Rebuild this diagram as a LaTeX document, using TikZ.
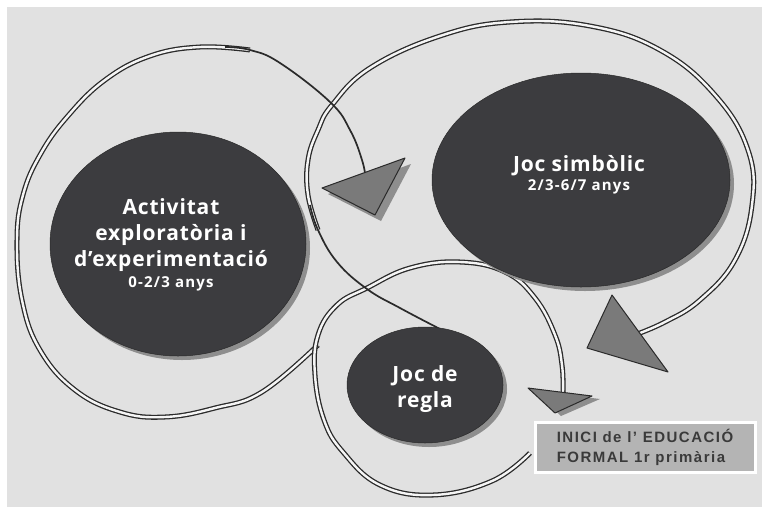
\documentclass[tikz,border=0pt]{standalone}
\usepackage{fontspec}
\setmainfont{Open Sans}
\newfontfamily\boxfont{Liberation Sans}[LetterSpace=10]
\usetikzlibrary{shapes.geometric,shadows}
\definecolor{paper}{HTML}{E1E1E1}
\definecolor{bubblegray}{HTML}{3C3C3F}
\definecolor{shadegray}{HTML}{8E8E8E}
\definecolor{headgray}{HTML}{7A7A7A}
\definecolor{linedark}{HTML}{2A2A2A}
\definecolor{boxgray}{HTML}{B4B4B4}
\definecolor{boxtext}{HTML}{3A3A3A}
\newcommand{\agesize}{\fontsize{15}{17}\selectfont\addfontfeatures{LetterSpace=8}}

\begin{document}
\begin{tikzpicture}[x=1pt, y=-1pt,
 bubble/.style={ellipse, fill=bubblegray, draw=linedark, line width=0.5pt, inner sep=0pt,
   drop shadow={fill=shadegray, opacity=1, shadow xshift=4pt, shadow yshift=-4pt}},
 caption/.style={text=white, align=center, font=\bfseries\fontsize{21}{26}\selectfont\addfontfeatures{LetterSpace=4}},
 ribbon/.style={draw=linedark, line width=1.3pt, double=white!96!black, double distance=2.4pt},
 strand/.style={draw=linedark, line width=1.7pt},
 head/.style={fill=headgray, draw=linedark, line width=1pt, line join=round},
 headshade/.style={fill=shadegray},
 infobox/.style={rectangle, fill=boxgray, draw=white, line width=3pt, minimum width=220pt,
   minimum height=50pt, align=left, text=boxtext, font=\boxfont\bfseries\fontsize{15}{20}\selectfont}]
\useasboundingbox (0,0) rectangle (767,514);
\fill[white] (0,0) rectangle (767,514);
\fill[paper] (7,7) rectangle (762,507);

% loop round the first stage
\draw[ribbon] plot[smooth, tension=0.7] coordinates {(318,345) (262,392) (215,408) (165,417) (120,412) (75,390) (40,350)
  (22,300) (17,240) (23,195) (40,155) (67,117) (105,80) (150,56) (200,47) (250,50)};
% loop round the symbolic play
\draw[ribbon] plot[smooth, tension=0.7] coordinates {(318,230) (308,195) (308,160) (318,130) (332,105) (370,68) (440,36)
  (510,22) (590,26) (660,50) (715,95) (748,150) (752,205) (735,260) (700,300) (665,322) (632,336)};
% loop round the rule games
\draw[ribbon] plot[smooth, tension=0.7] coordinates {(530,453) (492,481) (433,495) (380,485) (343,452) (324,420) (315,375)
  (318,335) (337,305) (367,288) (410,268) (460,262) (505,272) (535,298) (555,335) (562,365) (563,392)};
% thin ends
\draw[strand] plot[smooth, tension=0.7] coordinates {(225,47) (250,50) (280,63) (330,102) (350,130) (362,160) (366,180)};
\draw[strand] plot[smooth, tension=0.7] coordinates {(440,329) (400,308) (367,289) (337,262) (318,230) (310,205)};

% stages
\node[bubble, minimum width=256pt, minimum height=224pt] (explor) at (178,244) {};
\node[bubble, minimum width=298pt, minimum height=214pt] (simbol) at (581,180) {};
\node[bubble, minimum width=156pt, minimum height=116pt] (regla) at (425,385) {};
\node[caption] at ([xshift=-7pt, yshift=-1pt]explor.center) {Activitat\\exploratòria i\\d’experimentació\\[-5pt]{\agesize 0-2/3 anys}};
\node[caption] at ([xshift=-2pt, yshift=5pt]simbol.center) {Joc simbòlic\\[-7pt]{\agesize 2/3-6/7 anys}};
\node[caption] at ([yshift=-4pt]regla.center) {Joc de\\regla};

% arrow heads
\fill[headshade] (328,194) -- (411,164) -- (381,221) -- cycle;
\filldraw[head] (322,188) -- (405,158) -- (375,215) -- cycle;
\filldraw[head] (612,295) -- (587,348) -- (668,372) -- cycle;
\fill[headshade] (535,391) -- (600,399) -- (561,416) -- cycle;
\filldraw[head] (528,388) -- (592,396) -- (555,413) -- cycle;

\node[infobox] (inici) at (645,447) {INICI de l’ EDUCACIÓ\\FORMAL 1r primària};
\end{tikzpicture}
\end{document}
